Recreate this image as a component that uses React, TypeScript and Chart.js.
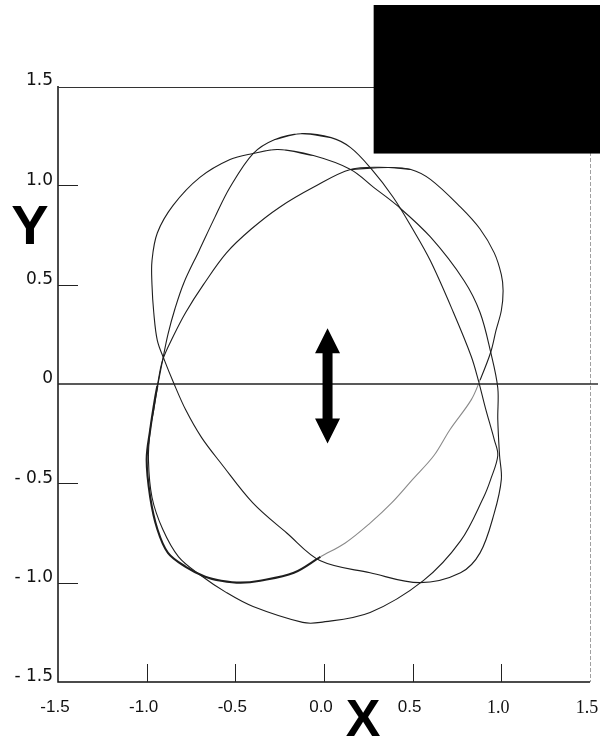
import React, { useEffect, useRef } from "react";
import { Chart, registerables } from "chart.js";

Chart.register(...registerables);

// Axis ticks and labels
const X_TICKS = [-1.5, -1.0, -0.5, 0, 0.5, 1.0, 1.5];
const X_TICK_LABELS = ["-1.5", "-1.0", "-0.5", "0.0", "0.5", "1.0", "1.5"];
const Y_TICKS = [-1.5, -1.0, -0.5, 0, 0.5, 1.0, 1.5];
const Y_TICK_LABELS = ["- 1.5", "- 1.0", "- 0.5", "0", "0.5", "1.0", "1.5"];
const X_TICK_MARKS = [-1.0, -0.5, 0, 0.5, 1.0];
const Y_TICK_MARKS = [-1.0, -0.5, 0.5, 1.0];

// Horizontal zero line
const ZERO_LINE_X = [-1.5, 1.5];
const ZERO_LINE_Y = [0, 0];

// Loop A (tilted upper-left to lower-right)
const LOOP_A_X = [-0.26, -0.06, 0.15, 0.28, 0.41, 0.6, 0.79, 0.88, 0.94, 0.98, 0.98, 0.99, 1.0, 0.96, 0.88, 0.77, 0.54, 0.26, -0.02, -0.21, -0.4, -0.58, -0.69, -0.78, -0.85, -0.9, -0.94, -0.96, -0.97, -0.97, -0.94, -0.85, -0.7, -0.53, -0.4];
const LOOP_A_Y = [1.18, 1.15, 1.08, 0.99, 0.9, 0.74, 0.52, 0.36, 0.16, -0.02, -0.18, -0.36, -0.48, -0.65, -0.85, -0.95, -1.0, -0.95, -0.89, -0.75, -0.6, -0.4, -0.27, -0.13, 0.01, 0.12, 0.22, 0.36, 0.5, 0.62, 0.76, 0.9, 1.04, 1.13, 1.16];

// Loop B (tilted upper-right to lower-left)
const LOOP_B_X = [0.36, 0.49, 0.6, 0.77, 0.88, 0.96, 1.0, 1.01, 1.0, 0.97, 0.94, 0.88, 0.83, 0.71, 0.62, 0.5, 0.38, 0.26, 0.12, -0.02, -0.17, -0.36, -0.47, -0.58, -0.67, -0.78, -0.88, -0.94, -0.98, -1.0, -0.98, -0.96, -0.94, -0.91, -0.85, -0.78, -0.68, -0.55, -0.41, -0.25, -0.06, 0.15];
const LOOP_B_Y = [1.09, 1.08, 1.03, 0.89, 0.78, 0.66, 0.55, 0.47, 0.37, 0.27, 0.16, 0.02, -0.08, -0.23, -0.36, -0.48, -0.6, -0.7, -0.8, -0.87, -0.95, -0.99, -1.0, -0.99, -0.97, -0.92, -0.85, -0.73, -0.57, -0.38, -0.23, -0.11, -0.01, 0.12, 0.24, 0.36, 0.5, 0.66, 0.78, 0.89, 0.99, 1.08];

// Loop C (nearly vertical)
const LOOP_C_X = [-0.13, 0.04, 0.15, 0.26, 0.39, 0.5, 0.6, 0.73, 0.83, 0.87, 0.91, 0.96, 0.98, 0.94, 0.9, 0.77, 0.56, 0.26, -0.02, -0.12, -0.4, -0.55, -0.7, -0.82, -0.91, -0.97, -0.99, -0.98, -0.96, -0.94, -0.91, -0.88, -0.84, -0.79, -0.705, -0.615, -0.53, -0.4, -0.28];
const LOOP_C_Y = [1.26, 1.24, 1.19, 1.09, 0.94, 0.78, 0.62, 0.36, 0.14, 0.02, -0.12, -0.28, -0.36, -0.48, -0.57, -0.79, -0.99, -1.15, -1.2, -1.2, -1.12, -1.05, -0.96, -0.87, -0.73, -0.57, -0.38, -0.23, -0.13, -0.02, 0.12, 0.25, 0.38, 0.51, 0.67, 0.84, 0.99, 1.16, 1.23];

// Double-headed arrow annotation (data coordinates)
const ARROW_X = 0.02;
const ARROW_TOP = 0.28;
const ARROW_BOTTOM = -0.3;

const SANS = "'Liberation Sans', Arial, sans-serif";
const WIDE_SANS = "'DejaVu Sans', Verdana, sans-serif";
const SERIF = "'Liberation Serif', 'Times New Roman', serif";

function closedLoop(xs: number[], ys: number[]) {
  const pts = xs.map((x, i) => ({ x, y: ys[i] }));
  const n = pts.length;
  return [pts[n - 1], ...pts, pts[0], pts[1]];
}

const decorPlugin = {
  id: "decor",
  beforeDatasetsDraw(chart: any) {
    const { ctx, chartArea: a, scales } = chart;
    const xs = scales.x;
    const ys = scales.y;
    ctx.save();
    // frame
    ctx.strokeStyle = "#111";
    ctx.lineWidth = 1.5;
    ctx.beginPath();
    ctx.moveTo(a.left, a.top);
    ctx.lineTo(a.left, a.bottom);
    ctx.lineTo(a.right, a.bottom);
    ctx.stroke();
    ctx.lineWidth = 1;
    ctx.strokeStyle = "#333";
    ctx.beginPath();
    ctx.moveTo(a.left, a.top + 1.5);
    ctx.lineTo(a.right, a.top + 1.5);
    ctx.stroke();
    ctx.strokeStyle = "#a0a0a0";
    ctx.setLineDash([4, 2]);
    ctx.beginPath();
    ctx.moveTo(a.right + 0.5, a.top);
    ctx.lineTo(a.right + 0.5, a.bottom);
    ctx.stroke();
    ctx.setLineDash([]);
    // zero line runs a little past the right frame, as in the scan
    ctx.strokeStyle = "#222";
    ctx.lineWidth = 1.4;
    const y0 = ys.getPixelForValue(0);
    ctx.beginPath();
    ctx.moveTo(a.right, y0);
    ctx.lineTo(a.right + 8, y0);
    ctx.stroke();
    // inward tick marks
    ctx.strokeStyle = "#222";
    ctx.lineWidth = 1;
    Y_TICK_MARKS.forEach((v) => {
      const py = Math.round(ys.getPixelForValue(v)) + 0.5;
      ctx.beginPath();
      ctx.moveTo(a.left, py);
      ctx.lineTo(a.left + 20, py);
      ctx.stroke();
    });
    X_TICK_MARKS.forEach((v) => {
      const px = Math.round(xs.getPixelForValue(v)) + 0.5;
      ctx.beginPath();
      ctx.moveTo(px, a.bottom);
      ctx.lineTo(px, a.bottom - 18);
      ctx.stroke();
    });
    ctx.restore();
  },
  afterDraw(chart: any) {
    const { ctx, scales, width } = chart;
    const xs = scales.x;
    const ys = scales.y;
    ctx.save();
    // arrow
    const ax = xs.getPixelForValue(ARROW_X);
    const top = ys.getPixelForValue(ARROW_TOP);
    const bot = ys.getPixelForValue(ARROW_BOTTOM);
    const headH = 25;
    const headW = 12.5;
    const shaftW = 5;
    ctx.fillStyle = "#000";
    ctx.beginPath();
    ctx.moveTo(ax, top);
    ctx.lineTo(ax + headW, top + headH);
    ctx.lineTo(ax + shaftW, top + headH);
    ctx.lineTo(ax + shaftW, bot - headH);
    ctx.lineTo(ax + headW, bot - headH);
    ctx.lineTo(ax, bot);
    ctx.lineTo(ax - headW, bot - headH);
    ctx.lineTo(ax - shaftW, bot - headH);
    ctx.lineTo(ax - shaftW, top + headH);
    ctx.lineTo(ax - headW, top + headH);
    ctx.closePath();
    ctx.fill();
    // axis letters
    ctx.fillStyle = "#000";
    ctx.textAlign = "center";
    ctx.textBaseline = "middle";
    ctx.font = `bold 52px ${SANS}`;
    ctx.fillText("X", xs.getPixelForValue(0.22), 722);
    ctx.font = `bold 56px ${SANS}`;
    ctx.fillText("Y", 30, ys.getPixelForValue(0.78));
    // black box at top right
    const bx = xs.getPixelForValue(0.28);
    const by = ys.getPixelForValue(1.16);
    ctx.fillRect(bx, 5, width - bx, by - 5);
    ctx.restore();
  },
};

export default function App() {
  const ref = useRef<HTMLCanvasElement>(null);
  useEffect(() => {
    document.body.style.margin = "0";
    const canvas = ref.current!;
    const curve = {
      showLine: true,
      pointRadius: 0,
      borderColor: "#1e1e1e",
      borderWidth: 1.1,
      tension: 0.35,
      fill: false,
    };
    const chart = new Chart(canvas, {
      type: "scatter",
      data: {
        datasets: [
          {
            data: ZERO_LINE_X.map((x, i) => ({ x, y: ZERO_LINE_Y[i] })),
            showLine: true,
            pointRadius: 0,
            borderColor: "#222",
            borderWidth: 1.4,
            tension: 0,
          },
          { ...curve, data: closedLoop(LOOP_A_X, LOOP_A_Y) },
          {
            ...curve,
            data: closedLoop(LOOP_B_X, LOOP_B_Y),
            segment: {
              borderWidth: (c: any) =>
                c.p0.parsed.x < 0 && c.p0.parsed.y < 0 && c.p1.parsed.y < 0.05 ? 2.1 : 1.1,
              borderColor: (c: any) =>
                c.p0.parsed.x > 0.1 && c.p0.parsed.y < 0.05 && c.p1.parsed.y < 0.05 ? "#8a8a8a" : "#1e1e1e",
            },
          },
          { ...curve, data: closedLoop(LOOP_C_X, LOOP_C_Y) },
        ],
      } as any,
      options: {
        responsive: false,
        animation: false,
        events: [],
        layout: { padding: { top: 86, right: 10, left: 0, bottom: 0 } },
        plugins: {
          legend: { display: false },
          tooltip: { enabled: false },
          title: { display: false },
        },
        scales: {
          x: {
            type: "linear",
            min: -1.5,
            max: 1.5,
            grid: { display: false, drawTicks: false },
            border: { display: false },
            afterBuildTicks: (s: any) => {
              s.ticks = X_TICKS.map((v) => ({ value: v }));
            },
            afterFit: (s: any) => {
              s.height = 62;
              s.paddingLeft = 0;
              s.paddingRight = 0;
            },
            ticks: {
              padding: 15,
              labelOffset: -3,
              color: "#111",
              autoSkip: false,
              maxRotation: 0,
              font: (c: any) =>
                c.tick && c.tick.value >= 1
                  ? { family: SERIF, size: 18 }
                  : { family: SANS, size: 17 },
              callback: (v: any) => {
                const i = X_TICKS.findIndex((t) => Math.abs(t - v) < 1e-6);
                return i >= 0 ? X_TICK_LABELS[i] : "";
              },
            },
          },
          y: {
            type: "linear",
            min: -1.5,
            max: 1.5,
            grid: { display: false, drawTicks: false },
            border: { display: false },
            afterBuildTicks: (s: any) => {
              s.ticks = Y_TICKS.map((v) => ({ value: v }));
            },
            afterFit: (s: any) => {
              s.width = 58;
              s.paddingTop = 0;
              s.paddingBottom = 0;
            },
            ticks: {
              padding: 5,
              labelOffset: -5,
              color: "#111",
              autoSkip: false,
              font: { family: WIDE_SANS, size: 17 },
              callback: (v: any) => {
                const i = Y_TICKS.findIndex((t) => Math.abs(t - v) < 1e-6);
                return i >= 0 ? Y_TICK_LABELS[i] : "";
              },
            },
          },
        },
      } as any,
      plugins: [decorPlugin],
    });
    return () => chart.destroy();
  }, []);
  return (
    <div style={{ width: 600, height: 744 }}>
      <canvas ref={ref} width={600} height={744} />
    </div>
  );
}
